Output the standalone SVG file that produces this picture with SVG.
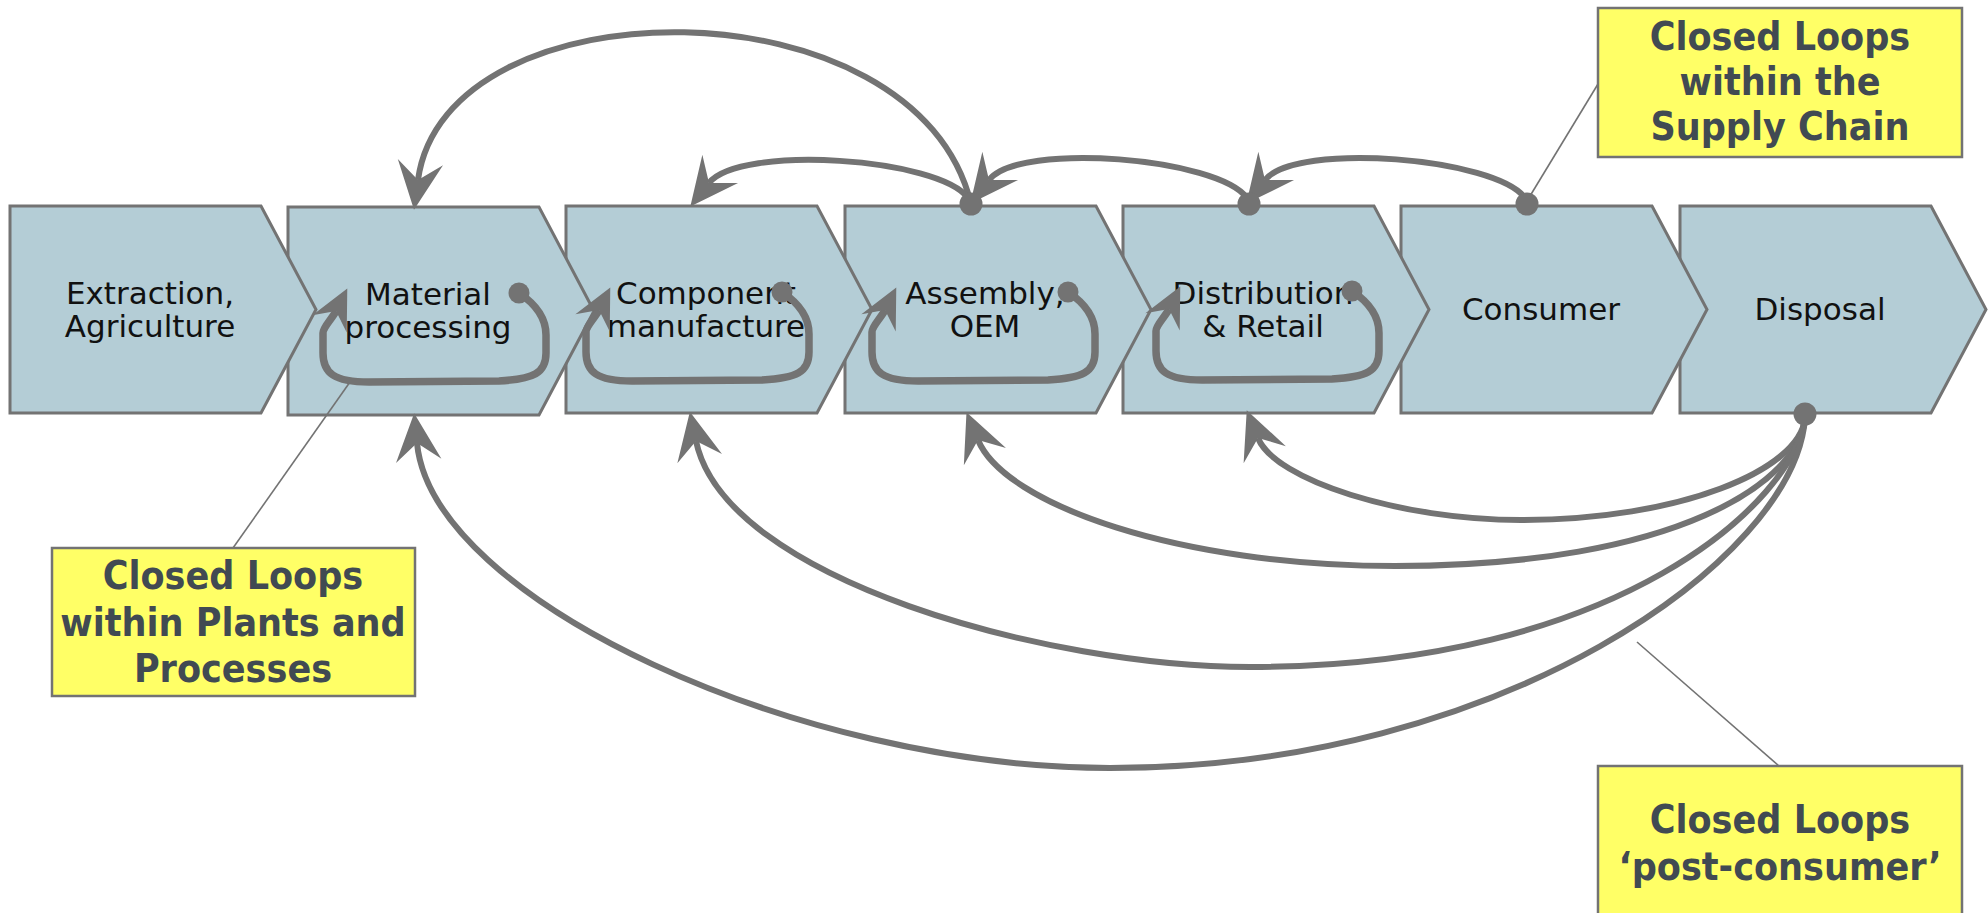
<svg xmlns="http://www.w3.org/2000/svg" width="1988" height="913" viewBox="0 0 1988 913">
  <style>
    .stage { fill: #b4cdd6; stroke: #737373; stroke-width: 3; stroke-linejoin: miter; }
    .label { font-family: "DejaVu Sans", Verdana, sans-serif; font-size: 31px; fill: #111; text-anchor: middle; }
    .note rect { fill: #ffff66; stroke: #737373; stroke-width: 2.5; }
    .note text { font-family: "DejaVu Sans Condensed", "DejaVu Sans", sans-serif; font-stretch: condensed; font-weight: bold; font-size: 39px; fill: #414a52; text-anchor: middle; }
    .flow { fill: none; stroke: #737373; stroke-width: 6; }
    .loop { fill: none; stroke: #737373; stroke-width: 7.5; stroke-linejoin: round; }
    .leader { fill: none; stroke: #737373; stroke-width: 1.6; }
    .dot { fill: #737373; }
  </style>
  <defs>
    <marker id="arrow" markerUnits="userSpaceOnUse" markerWidth="60" markerHeight="60" viewBox="-20 -25 50 50" refX="0" refY="0" orient="auto" overflow="visible">
      <path d="M25,0 L-15,-19 L0,0 L-15,19 Z" fill="#737373"/>
    </marker>
    <marker id="arrow-loop" markerUnits="userSpaceOnUse" markerWidth="60" markerHeight="60" viewBox="-20 -25 50 50" refX="0" refY="0" orient="auto" overflow="visible">
      <path d="M21,0 L-12,-16 L0,0 L-12,16 Z" fill="#737373"/>
    </marker>
    <path id="loop-shape" class="loop" marker-end="url(#arrow-loop)"
          d="M0,0 C18,12 27,25 27,42 L27,60 C27,80 15,86 -20,88 L-150,89 C-185,89 -196,80 -196,60 L-196,40 C-196,34 -187,26 -183,18"/>
  </defs>

  <!-- process chain, drawn right to left so each tip overlaps the next stage -->
  <g id="disposal">
    <path class="stage" d="M1680,206 L1931,206 L1986,309.5 L1931,413 L1680,413 Z"/>
    <text class="label" x="1820" y="320">Disposal</text>
  </g>
  <g id="consumer">
    <path class="stage" d="M1401,206 L1652,206 L1707,309.5 L1652,413 L1401,413 Z"/>
    <text class="label" x="1541" y="320">Consumer</text>
  </g>
  <g id="distribution">
    <path class="stage" d="M1123,206 L1374,206 L1429,309.5 L1374,413 L1123,413 Z"/>
    <text class="label" x="1263" y="304">Distribution</text>
    <text class="label" x="1263" y="337">&amp; Retail</text>
  </g>
  <g id="assembly">
    <path class="stage" d="M845,206 L1096,206 L1151,309.5 L1096,413 L845,413 Z"/>
    <text class="label" x="985" y="304">Assembly,</text>
    <text class="label" x="985" y="337">OEM</text>
  </g>
  <g id="component">
    <path class="stage" d="M566,206 L817,206 L872,309.5 L817,413 L566,413 Z"/>
    <text class="label" x="706" y="304">Component</text>
    <text class="label" x="706" y="337">manufacture</text>
  </g>
  <g id="material">
    <path class="stage" d="M288,207 L539,207 L594,311 L539,415 L288,415 Z"/>
    <text class="label" x="428" y="305">Material</text>
    <text class="label" x="428" y="338">processing</text>
  </g>
  <g id="extraction">
    <path class="stage" d="M10,206 L261,206 L316,309.5 L261,413 L10,413 Z"/>
    <text class="label" x="150" y="304">Extraction,</text>
    <text class="label" x="150" y="337">Agriculture</text>
  </g>

  <!-- callout notes -->
  <g id="note-plants" class="note">
    <rect x="52" y="548" width="363" height="148"/>
    <text x="233" y="589">Closed Loops</text>
    <text x="233" y="636">within Plants and</text>
    <text x="233" y="682">Processes</text>
  </g>
  <g id="note-supply-chain" class="note">
    <rect x="1598" y="8" width="364" height="149"/>
    <text x="1780" y="50">Closed Loops</text>
    <text x="1780" y="95">within the</text>
    <text x="1780" y="140">Supply Chain</text>
  </g>
  <g id="note-post-consumer" class="note">
    <rect x="1598" y="766" width="364" height="160"/>
    <text x="1780" y="833">Closed Loops</text>
    <text x="1780" y="880">‘post-consumer’</text>
  </g>

  <!-- material flows -->
  <g id="connectors">
    <!-- loops within each plant -->
    <use href="#loop-shape" x="519" y="293"/>
    <use href="#loop-shape" x="782" y="292"/>
    <use href="#loop-shape" x="1068" y="292"/>
    <use href="#loop-shape" x="1352" y="291"/>
    <circle class="dot" cx="519" cy="293" r="10.5"/>
    <circle class="dot" cx="782" cy="292" r="10.5"/>
    <circle class="dot" cx="1068" cy="292" r="10.5"/>
    <circle class="dot" cx="1352" cy="291" r="10.5"/>

    <!-- loops within the supply chain -->
    <path class="flow" marker-end="url(#arrow)" d="M971,204 C917,-22 445,-20 418,180"/>
    <path class="flow" marker-end="url(#arrow)" d="M968,198 C940,158 740,144 709,183"/>
    <path class="flow" marker-end="url(#arrow)" d="M1247,198 C1219,158 1020,141 989,180"/>
    <path class="flow" marker-end="url(#arrow)" d="M1525,198 C1497,158 1296,141 1265,180"/>
    <circle class="dot" cx="971" cy="204" r="11.5"/>
    <circle class="dot" cx="1249" cy="204" r="11.5"/>
    <circle class="dot" cx="1527" cy="204" r="11.5"/>

    <!-- post-consumer returns -->
    <path class="flow" marker-end="url(#arrow)" d="M1805,418 C1800,470 1680,520 1521,520 C1400,520 1275,480 1258,438"/>
    <path class="flow" marker-end="url(#arrow)" d="M1805,418 C1800,480 1680,566 1395,566 C1180,566 1005,505 978,440"/>
    <path class="flow" marker-end="url(#arrow)" d="M1805,418 C1795,500 1620,667 1250,667 C1050,667 725,580 696,441"/>
    <path class="flow" marker-end="url(#arrow)" d="M1805,418 C1795,560 1500,768 1110,768 C800,768 432,600 417,443"/>
    <circle class="dot" cx="1805" cy="414" r="11.5"/>

    <!-- callout leaders -->
    <line class="leader" x1="1598" y1="84" x2="1530" y2="196"/>
    <line class="leader" x1="233" y1="548" x2="350" y2="382"/>
    <line class="leader" x1="1779" y1="766" x2="1637" y2="642"/>
  </g>
</svg>
